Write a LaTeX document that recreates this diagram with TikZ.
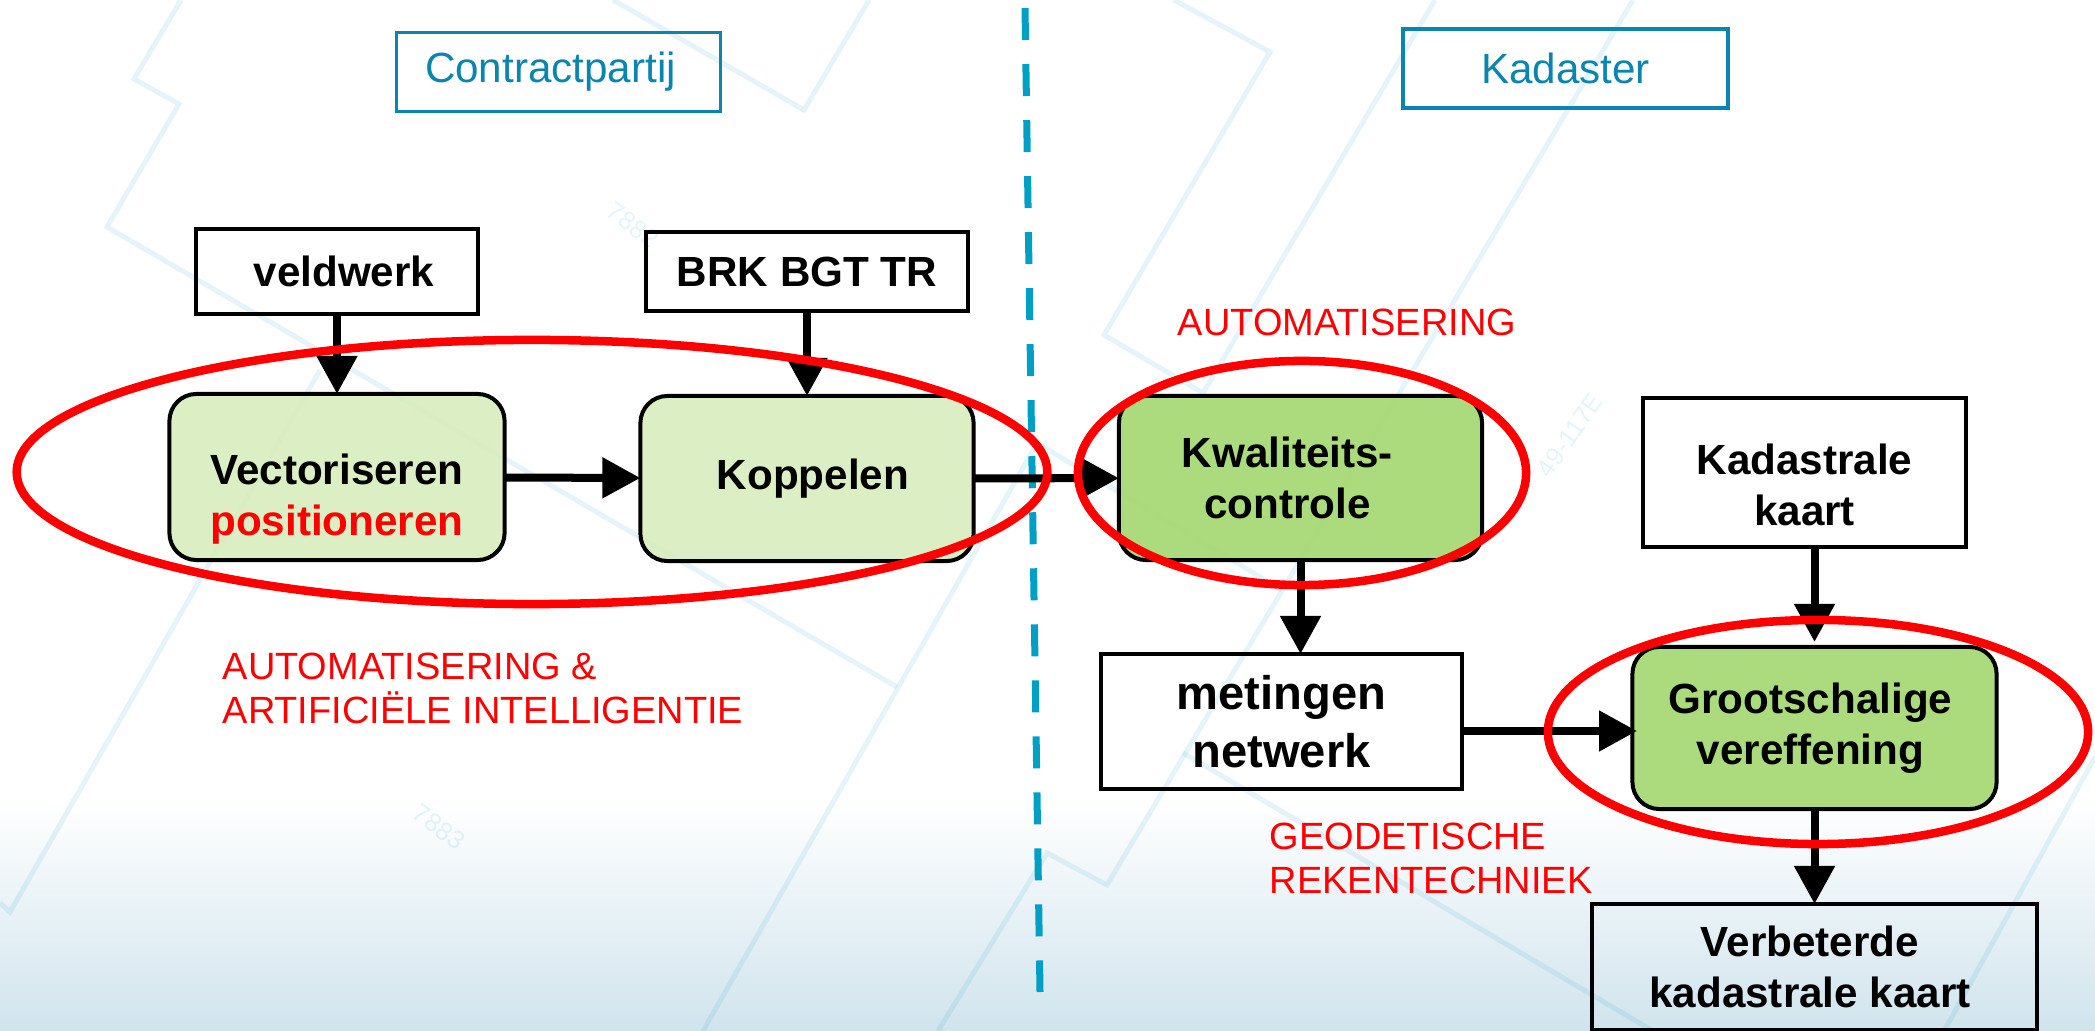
\documentclass[tikz,border=0pt]{standalone}
\usepackage{fontspec}
\setmainfont{Liberation Sans}
\usetikzlibrary{arrows.meta}
\definecolor{lijnblauw}{HTML}{0A85B0}
\definecolor{scheiding}{HTML}{00A0C6}
\definecolor{lichtgroen}{HTML}{D8EDBF}
\definecolor{groen}{HTML}{A6D873}
\definecolor{onderkant}{HTML}{D0E4ED}
\definecolor{kaartlijn}{HTML}{0095CC}
\tikzset{
    vak/.style={draw,line width=0.04cm,inner sep=0,outer sep=0,align=center,font=\fontsize{12}{14.5}\selectfont\bfseries},
    zijde/.style={draw=lijnblauw,line width=0.035cm,inner sep=0,outer sep=0,text=lijnblauw,font=\fontsize{12}{14.5}\selectfont},
    stap/.style={vak,rounded corners=0.27cm,fill opacity=0.93,text opacity=1},
    pijl/.style={line width=0.08cm,-{Triangle[length=0.38cm,width=0.39cm]}},
    ovaal/.style={draw=red,line width=0.085cm},
    opmerking/.style={text=red,inner sep=0,align=left,font=\fontsize{10.8}{12.55}\selectfont},
    kaart/.style={draw=kaartlijn,draw opacity=0.1,line width=0.05cm},
    kaartnummer/.style={text=kaartlijn,text opacity=0.1,inner sep=0,font=\fontsize{7.3}{9}\selectfont}
}
\begin{document}
\begin{tikzpicture}[x=0.01cm,y=-0.01cm]
    \useasboundingbox (0,0) rectangle (2095,1031);
    \shade [top color=white,bottom color=onderkant] (0,800) rectangle (2095,1031);

    \draw [kaart] (181,0) -- (134,79) -- (179,104) -- (107,227) -- (897,687);
    \draw [kaart] (613,0) -- (804,110) -- (869,0);
    \draw [kaart] (320,370) -- (10,912) -- (0,903);
    \draw [kaart] (1174,0) -- (1270,52) -- (1104,335) -- (1203,393) -- (1435,0);
    \draw [kaart] (703,1031) -- (1037,443) -- (1282,590);
    \draw [kaart] (1633,0) -- (1107,885) -- (1047,853) -- (938,1031);
    \draw [kaart] (1183,753) -- (1653,1031);
    \draw [kaart] (2095,757) -- (1944,1031);
    \node (nummera) [kaartnummer,rotate=-37] at (633,225) {7882};
    \node (nummerb) [kaartnummer,rotate=-37] at (439,827) {7883};
    \node (nummerc) [kaartnummer,rotate=55] at (1570,435) {49-117E};

    \draw [scheiding,line width=0.07cm,dash pattern=on 0.32cm off 0.24cm] (1025,8) -- (1040,992);

    \node (contractpartij) [zijde,minimum width=3.24cm,minimum height=0.79cm] at (558.5,72) {Contractpartij\hspace*{0.16cm}};
    \node (kadaster) [zijde,minimum width=3.25cm,minimum height=0.79cm] at (1565.5,68.5) {Kadaster};

    \node (veldwerk) [vak,minimum width=2.82cm,minimum height=0.85cm] at (337,271.5) {\hspace*{0.14cm}veldwerk};
    \node (brk) [vak,minimum width=3.22cm,minimum height=0.79cm] at (807,271.5) {BRK BGT TR};
    \node (vectoriseren) [stap,fill=lichtgroen,minimum width=3.35cm,minimum height=1.66cm] at (337,477) {\rule{0pt}{0.75cm}Vectoriseren\\ \textcolor{red}{positioneren}};
    \node (koppelen) [stap,fill=lichtgroen,minimum width=3.33cm,minimum height=1.65cm] at (807,478.5) {\hspace*{0.12cm}Koppelen};
    \node (kwaliteit) [stap,fill=groen,minimum width=3.63cm,minimum height=1.64cm] at (1300.5,478) {Kwaliteits-\hspace*{0.26cm}\\ controle\hspace*{0.26cm}};
    \node (kadastraal) [vak,minimum width=3.23cm,minimum height=1.49cm] at (1804.5,472.5) {\rule{0pt}{0.55cm}Kadastrale\\ kaart};
    \node (metingen) [vak,minimum width=3.61cm,minimum height=1.35cm,font=\fontsize{13.4}{16.5}\selectfont\bfseries] at (1281.5,721.5) {metingen\\ netwerk};
    \node (groot) [stap,fill=groen,minimum width=3.64cm,minimum height=1.62cm] at (1814.5,728) {Grootschalige\hspace*{0.08cm}\\ vereffening\hspace*{0.08cm}};
    \node (verbeterd) [vak,minimum width=4.45cm,minimum height=1.26cm] at (1814.5,967) {Verbeterde\hspace*{0.09cm}\\ kadastrale kaart\hspace*{0.09cm}};

    \coordinate (inkomst) at (1637,731);
    \draw [pijl] (veldwerk) -- (vectoriseren);
    \draw [pijl] (brk) -- (koppelen);
    \draw [pijl] (vectoriseren) -- (koppelen);
    \draw [pijl] (koppelen) -- (kwaliteit);
    \draw [pijl] (kwaliteit) -- (kwaliteit |- metingen.north);
    \draw [pijl,shorten >=0.05cm] (groot |- kadastraal.south) -- (groot.north);
    \draw [pijl] (metingen.east |- inkomst) -- (inkomst);
    \draw [pijl] (groot) -- (verbeterd);

    \node (automatisering) [opmerking,anchor=base west] at (1177,336) {AUTOMATISERING};
    \node (kunstmatig) [opmerking,anchor=west] at (222,688) {AUTOMATISERING \&\\ ARTIFICIËLE INTELLIGENTIE};
    \node (rekentechniek) [opmerking,anchor=west] at (1269,858) {GEODETISCHE\\ REKENTECHNIEK};

    \draw [ovaal] (532,472) ellipse [x radius=5.15cm,y radius=1.32cm];
    \draw [ovaal] (1302,473) ellipse [x radius=2.24cm,y radius=1.12cm];
    \draw [ovaal] (1818,732) ellipse [x radius=2.7cm,y radius=1.12cm];
\end{tikzpicture}
\end{document}
